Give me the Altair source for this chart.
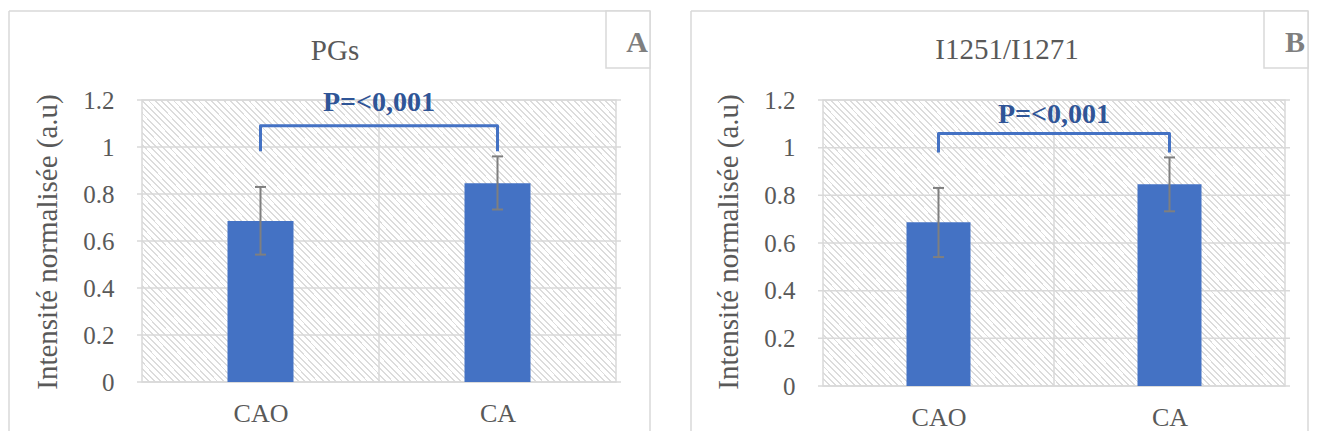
import json
import altair as alt
import pandas as pd

# ---------------- data ----------------
categories = ["CAO", "CA"]
panel_titles = ["PGs", "I1251/I1271"]
panel_letters = ["A", "B"]
p_label = "P=<0,001"
y_title = "Intensité normalisée (a.u)"
y_ticks = [0, 0.2, 0.4, 0.6, 0.8, 1.0, 1.2]

means_A = [0.685, 0.846]
low_A = [0.542, 0.734]
high_A = [0.830, 0.960]

means_B = [0.687, 0.847]
low_B = [0.541, 0.733]
high_B = [0.831, 0.959]

# significance bracket: leg bottom, bracket top, label baseline (data units)
bracket_A = [0.982, 1.090, 1.153]
bracket_B = [0.980, 1.059, 1.104]

# ---------------- styles ----------------
FONT = "Liberation Serif"
BAR = "#4472C4"
PCOL = "#2F5597"
ERR = "#7F7F7F"
GRID = "#D9D9D9"
TXT = "#595959"
LET = "#7F7F7F"


def hatch(w, h, period=4.5, frac=0.3, line="#DCDCDC", bg="#FFFFFF"):
    r = h / w
    k = (1 + r) / (1 + r * r)
    n = int(round((w + h) / (2 ** 0.5) / period))
    stops = []
    for i in range(n):
        a = round(i / n, 6)
        b = round((i + frac) / n, 6)
        c = round((i + 1) / n, 6)
        stops += [
            alt.GradientStop(color=line, offset=a),
            alt.GradientStop(color=line, offset=b),
            alt.GradientStop(color=bg, offset=b),
            alt.GradientStop(color=bg, offset=c),
        ]
    return alt.LinearGradient(gradient="linear", stops=stops,
                              x1=0, y1=1, x2=round(k, 5), y2=round(1 - k * r, 5))


def panel(title, letter, means, lows, highs, bracket, geo):
    w, h = geo["w"], geo["h"]
    xs = alt.Scale(domain=[0, 2], nice=False, zero=False)
    ys = alt.Scale(domain=[0, 1.2], nice=False, zero=False)
    pos = [i + 0.5 for i in range(len(categories))]
    mid = sum(pos) / len(pos)
    df = pd.DataFrame({"cat": categories, "pos": pos, "mean": means,
                       "low": lows, "high": highs})
    one = pd.DataFrame({"k": [0]})
    label_expr = f"{json.dumps(categories)}[floor(datum.value)]"

    xa = alt.Axis(values=pos, labelExpr=label_expr, title=None, grid=False, ticks=False,
                  domain=False, labelFont=FONT, labelFontSize=26, labelColor=TXT,
                  labelPadding=18, labelFlush=False, labelOverlap=False)
    ya = alt.Axis(values=y_ticks, format="~g", title=None, grid=False, ticks=False,
                  domain=False, labelFont=FONT, labelFontSize=25, labelColor=TXT,
                  labelPadding=23, labelFlush=False, labelOverlap=False)

    bg = alt.Chart(one).mark_rect(fill=hatch(w, h), stroke=GRID, strokeWidth=1.5).encode(
        x=alt.XDatum(0, type="quantitative", scale=xs, axis=xa),
        x2=alt.X2Datum(2),
        y=alt.YDatum(0, type="quantitative", scale=ys, axis=ya),
        y2=alt.Y2Datum(1.2),
    )
    hgrid = alt.Chart(pd.DataFrame({"v": y_ticks})).mark_rule(
        color=GRID, strokeWidth=1.5).encode(y=alt.Y("v:Q", scale=ys, axis=ya))
    vgrid = alt.Chart(one).mark_rule(color=GRID, strokeWidth=1.5).encode(
        x=alt.XDatum(mid, type="quantitative", scale=xs, axis=xa))

    bars = alt.Chart(df).mark_bar(size=geo["bar"], color=BAR, orient="vertical").encode(
        x=alt.X("pos:Q", scale=xs, axis=xa),
        y=alt.Y("mean:Q", scale=ys, axis=ya),
    )
    err = alt.Chart(df).mark_rule(color=ERR, strokeWidth=2).encode(
        x=alt.X("pos:Q", scale=xs, axis=xa),
        y=alt.Y("low:Q", scale=ys, axis=ya),
        y2="high:Q",
    )
    cap_lo = alt.Chart(df).mark_tick(color=ERR, orient="horizontal", size=11,
                                     thickness=2, opacity=1).encode(
        x=alt.X("pos:Q", scale=xs, axis=xa),
        y=alt.Y("low:Q", scale=ys, axis=ya))
    cap_hi = alt.Chart(df).mark_tick(color=ERR, orient="horizontal", size=11,
                                     thickness=2, opacity=1).encode(
        x=alt.X("pos:Q", scale=xs, axis=xa),
        y=alt.Y("high:Q", scale=ys, axis=ya))

    br = pd.DataFrame({
        "x": [pos[0], pos[0], pos[1], pos[1]],
        "y": [bracket[0], bracket[1], bracket[1], bracket[0]],
        "o": [0, 1, 2, 3],
    })
    line = alt.Chart(br).mark_line(color=BAR, strokeWidth=3, strokeJoin="round").encode(
        x=alt.X("x:Q", scale=xs, axis=xa),
        y=alt.Y("y:Q", scale=ys, axis=ya),
        order="o:Q",
    )
    ptxt = alt.Chart(one).mark_text(text=p_label, font=FONT, fontSize=28, fontWeight="bold",
                                    color=PCOL, align="center", baseline="alphabetic").encode(
        x=alt.XDatum(mid, type="quantitative", scale=xs, axis=xa),
        y=alt.YDatum(bracket[2], type="quantitative", scale=ys, axis=ya),
    )

    fl, fr, ft, fb = geo["fl"], geo["fr"], -89, 331
    frame_l = alt.Chart(one).mark_rule(color=GRID, strokeWidth=1.5).encode(
        x=alt.value(fl), y=alt.value(ft), y2=alt.value(fb))
    frame_r = alt.Chart(one).mark_rule(color=GRID, strokeWidth=1.5).encode(
        x=alt.value(fr), y=alt.value(ft), y2=alt.value(fb))
    frame_t = alt.Chart(one).mark_rule(color=GRID, strokeWidth=1.5).encode(
        x=alt.value(fl), x2=alt.value(fr), y=alt.value(ft))
    box = alt.Chart(one).mark_rect(fill="white", stroke=GRID, strokeWidth=1.5).encode(
        x=alt.value(fr - 44), x2=alt.value(fr), y=alt.value(ft), y2=alt.value(-32))
    let = alt.Chart(one).mark_text(text=letter, font=FONT, fontSize=30, fontWeight="bold",
                                   color=LET, align="center", baseline="alphabetic").encode(
        x=alt.value(fr - 44 + 31), y=alt.value(-48))
    ttl = alt.Chart(one).mark_text(text=title, font=FONT, fontSize=29, color=TXT,
                                   align="center", baseline="alphabetic").encode(
        x=alt.value(geo["tx"]), y=alt.value(geo["ty"]))
    ytl = alt.Chart(one).mark_text(text=y_title, font=FONT, fontSize=29, color=TXT,
                                   angle=270, align="center", baseline="middle").encode(
        x=alt.value(-89), y=alt.value(142))

    return alt.layer(bg, hgrid, vgrid, bars, err, cap_lo, cap_hi, line, ptxt,
                     frame_l, frame_r, frame_t, box, let, ttl, ytl).properties(width=w, height=h)


geo_A = {"w": 484, "h": 282, "bar": 66, "fl": -128, "fr": 513, "tx": 198, "ty": -40}
geo_B = {"w": 472, "h": 286, "bar": 64, "fl": -127, "fr": 490, "tx": 189, "ty": -41}

pA = panel(panel_titles[0], panel_letters[0], means_A, low_A, high_A, bracket_A, geo_A)
pB = panel(panel_titles[1], panel_letters[1], means_B, low_B, high_B, bracket_B, geo_B)

chart = alt.hconcat(pA, pB, spacing=39).properties(
    padding={"left": 0, "top": 2, "right": 0, "bottom": 0},
    background="white",
).configure_view(stroke=None)

chart.save("out.html", embed_options={"renderer": "svg", "actions": False})
